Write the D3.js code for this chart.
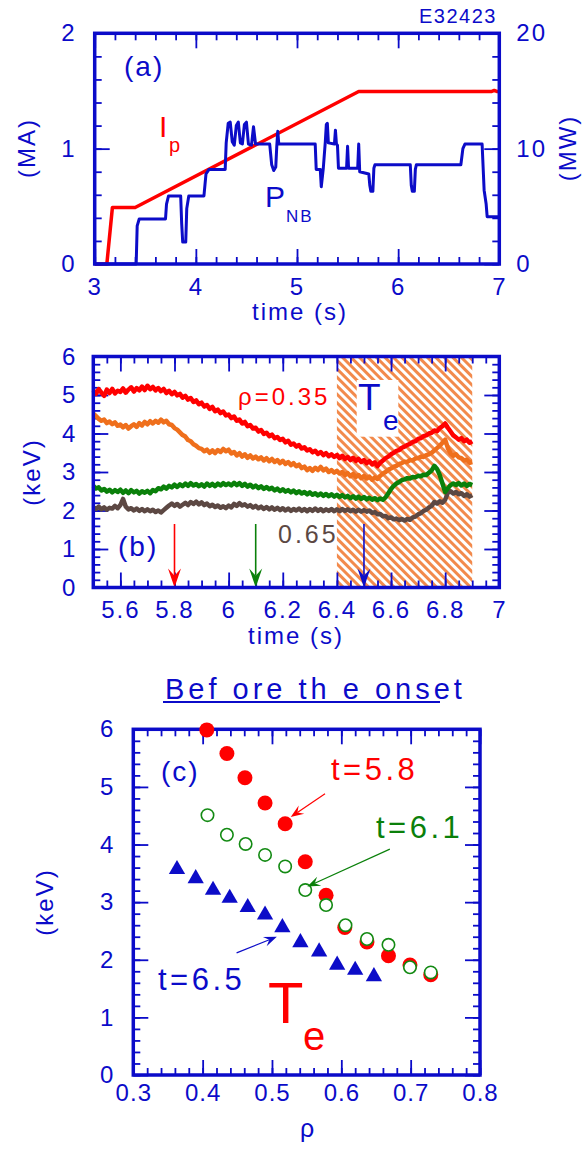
<!DOCTYPE html>
<html>
<head>
<meta charset="utf-8">
<script src="https://cdn.jsdelivr.net/npm/d3@7/dist/d3.min.js"></script>
<style>
  html, body { margin: 0; padding: 0; background: #fff; }
  svg { display: block; }
  text { font-family: "Liberation Sans", Arial, Helvetica, sans-serif; }
</style>
</head>
<body>
<svg id="fig" width="582" height="1149"></svg>
<script>
// ---------- (a) plasma current and NB power vs time ----------
const ipTime    = [3.00, 3.12, 3.175, 3.40, 5.61, 6.92, 6.95, 6.98, 7.00];
const ipCurrent = [0.00, 0.00, 0.49, 0.49, 1.495, 1.495, 1.505, 1.495, 1.495];

const nbTime = [3.00, 3.41, 3.42, 3.44, 3.70, 3.71, 3.73, 3.85, 3.86, 3.87, 3.90, 3.91, 3.93,
  4.08, 4.10, 4.13, 4.29, 4.30, 4.32, 4.34, 4.36, 4.38, 4.40, 4.42, 4.44, 4.46, 4.48, 4.50,
  4.52, 4.55, 4.57, 4.59, 4.73, 4.75, 4.77, 4.79, 4.80, 4.81, 4.82, 5.18, 5.19, 5.23, 5.24,
  5.26, 5.28, 5.29, 5.30, 5.31, 5.37, 5.38, 5.39, 5.40, 5.41, 5.49, 5.50, 5.51, 5.60, 5.61,
  5.62, 5.71, 5.72, 5.73, 5.75, 5.76, 5.77, 6.12, 6.13, 6.14, 6.16, 6.17, 6.18, 6.62, 6.64,
  6.66, 6.83, 6.85, 6.87, 6.88, 7.00];
const nbPower = [0.0, 0.0, 3.3, 3.9, 3.9, 5.2, 5.9, 5.9, 3.5, 1.9, 1.9, 4.8, 5.9,
  5.9, 7.8, 8.2, 8.2, 10.5, 12.2, 12.3, 10.6, 10.3, 12.0, 12.3, 10.5, 10.4, 12.1, 12.3,
  10.4, 10.3, 11.9, 10.4, 10.4, 8.6, 8.1, 8.4, 10.2, 11.5, 10.4, 10.4, 8.2, 8.2, 6.7,
  8.3, 10.6, 12.1, 12.2, 10.5, 10.4, 11.6, 10.4, 10.3, 8.3, 8.3, 10.2, 8.3, 8.3, 10.4,
  8.0, 7.8, 6.8, 6.3, 6.3, 8.3, 8.6, 8.6, 6.8, 6.3, 6.3, 8.2, 8.6, 8.6, 10.0,
  10.4, 10.4, 6.4, 5.2, 4.1, 4.1];

// ---------- (b) Te time traces, 10 ms sampling starting at 5.50 s ----------
const teStart = 5.5, teStep = 0.01;
const teRho035 = [
  5.12, 5.03, 5.15, 5.06, 4.98, 5.14, 5.05, 5.16, 5.04, 5.11,
  5.08, 5.17, 5.06, 5.14, 5.20, 5.09, 5.18, 5.12, 5.22, 5.13,
  5.24, 5.15, 5.21, 5.12, 5.18, 5.10, 5.16, 5.05, 5.11, 5.02,
  5.08, 4.99, 5.03, 4.93, 4.98, 4.88, 4.92, 4.82, 4.86, 4.76,
  4.80, 4.70, 4.74, 4.64, 4.69, 4.58, 4.62, 4.53, 4.57, 4.47,
  4.49, 4.40, 4.44, 4.33, 4.36, 4.26, 4.30, 4.19, 4.22, 4.13,
  4.15, 4.05, 4.09, 3.99, 4.02, 3.93, 3.97, 3.88, 3.91, 3.83,
  3.86, 3.77, 3.81, 3.71, 3.74, 3.66, 3.70, 3.61, 3.64, 3.56,
  3.59, 3.51, 3.55, 3.47, 3.52, 3.44, 3.49, 3.41, 3.46, 3.39,
  3.44, 3.36, 3.42, 3.34, 3.39, 3.31, 3.37, 3.29, 3.34, 3.26,
  3.31, 3.23, 3.28, 3.20, 3.25, 3.15, 3.24, 3.30, 3.36, 3.40,
  3.46, 3.50, 3.55, 3.57, 3.63, 3.66, 3.70, 3.73, 3.78, 3.80,
  3.86, 3.88, 3.93, 3.95, 4.00, 4.02, 4.08, 4.06, 4.14, 4.19,
  4.26, 4.15, 4.05, 3.95, 3.90, 3.84, 3.88, 3.80, 3.84, 3.76, 3.80];
const teRhoMidIn = [
  4.52, 4.45, 4.38, 4.33, 4.36, 4.27, 4.31, 4.24, 4.29, 4.20,
  4.23, 4.16, 4.22, 4.13, 4.19, 4.24, 4.17, 4.27, 4.21, 4.30,
  4.24, 4.32, 4.26, 4.33, 4.28, 4.36, 4.29, 4.33, 4.24, 4.22,
  4.14, 4.10, 4.03, 3.96, 3.92, 3.83, 3.80, 3.72, 3.68, 3.62,
  3.60, 3.54, 3.58, 3.50, 3.56, 3.49, 3.57, 3.52, 3.60, 3.54,
  3.58, 3.48, 3.52, 3.43, 3.49, 3.40, 3.46, 3.37, 3.43, 3.35,
  3.40, 3.33, 3.38, 3.30, 3.36, 3.28, 3.34, 3.26, 3.31, 3.23,
  3.29, 3.21, 3.26, 3.18, 3.23, 3.15, 3.19, 3.10, 3.14, 3.05,
  3.10, 3.03, 3.11, 3.05, 3.13, 3.04, 3.09, 3.00, 3.05, 2.98,
  3.03, 2.96, 3.00, 2.92, 2.97, 2.89, 2.95, 2.87, 2.92, 2.84,
  2.90, 2.83, 2.88, 2.80, 2.86, 2.82, 2.90, 2.96, 3.00, 3.06,
  3.09, 3.14, 3.16, 3.21, 3.23, 3.27, 3.26, 3.31, 3.30, 3.35,
  3.36, 3.40, 3.39, 3.44, 3.46, 3.50, 3.56, 3.62, 3.68, 3.76,
  3.84, 3.62, 3.48, 3.42, 3.46, 3.38, 3.36, 3.30, 3.32, 3.24, 3.26];
const teRhoMidOut = [
  2.64, 2.57, 2.60, 2.52, 2.56, 2.49, 2.54, 2.47, 2.53, 2.48,
  2.54, 2.46, 2.52, 2.45, 2.53, 2.47, 2.51, 2.44, 2.50, 2.46,
  2.51, 2.45, 2.53, 2.50, 2.58, 2.55, 2.62, 2.57, 2.64, 2.60,
  2.67, 2.61, 2.68, 2.63, 2.70, 2.64, 2.71, 2.65, 2.69, 2.63,
  2.68, 2.62, 2.70, 2.64, 2.69, 2.63, 2.70, 2.65, 2.71, 2.66,
  2.70, 2.65, 2.72, 2.66, 2.71, 2.64, 2.69, 2.62, 2.67, 2.60,
  2.65, 2.58, 2.63, 2.56, 2.61, 2.55, 2.59, 2.52, 2.57, 2.50,
  2.55, 2.49, 2.53, 2.47, 2.52, 2.45, 2.50, 2.44, 2.48, 2.42,
  2.47, 2.41, 2.45, 2.39, 2.44, 2.38, 2.43, 2.37, 2.42, 2.36,
  2.41, 2.35, 2.40, 2.34, 2.38, 2.32, 2.37, 2.31, 2.36, 2.30,
  2.35, 2.29, 2.33, 2.28, 2.32, 2.27, 2.31, 2.28, 2.34, 2.45,
  2.56, 2.64, 2.70, 2.74, 2.79, 2.81, 2.84, 2.83, 2.87, 2.86,
  2.90, 2.89, 2.93, 2.92, 2.98, 3.04, 3.16, 3.08, 2.92, 2.70,
  2.48, 2.58, 2.66, 2.70, 2.66, 2.71, 2.65, 2.70, 2.64, 2.69, 2.66];
const teRho065 = [
  2.09, 2.04, 2.10, 2.03, 2.08, 2.02, 2.07, 2.05, 2.12, 2.06,
  2.14, 2.30, 2.10, 2.03, 2.06, 2.00, 2.05, 1.99, 2.04, 1.98,
  2.03, 1.98, 2.02, 1.96, 2.00, 1.95, 2.01, 2.07, 2.13, 2.18,
  2.12, 2.17, 2.10, 2.15, 2.20, 2.14, 2.22, 2.17, 2.23, 2.16,
  2.21, 2.14, 2.18, 2.11, 2.15, 2.09, 2.13, 2.07, 2.11, 2.06,
  2.13, 2.08, 2.17, 2.12, 2.19, 2.13, 2.16, 2.10, 2.14, 2.08,
  2.12, 2.06, 2.10, 2.04, 2.09, 2.03, 2.08, 2.02, 2.07, 2.01,
  2.06, 2.00, 2.05, 1.99, 2.04, 2.00, 2.05, 1.99, 2.04, 1.98,
  2.04, 1.99, 2.05, 1.99, 2.04, 1.98, 2.03, 1.99, 2.04, 1.98,
  2.03, 1.98, 2.04, 1.99, 2.03, 1.98, 2.02, 1.97, 2.02, 1.97,
  2.01, 1.97, 2.00, 1.94, 1.96, 1.90, 1.91, 1.85, 1.86, 1.80,
  1.82, 1.77, 1.79, 1.75, 1.78, 1.74, 1.78, 1.76, 1.82, 1.84,
  1.90, 1.93, 1.99, 2.02, 2.08, 2.12, 2.22, 2.18, 2.24, 2.20,
  2.28, 2.46, 2.50, 2.44, 2.48, 2.42, 2.45, 2.38, 2.42, 2.36, 2.40];
const profileTimes = [5.8, 6.1, 6.5];
const arrowTopKeV = 1.65;
const hatchStart = 6.4, hatchEnd = 6.9;

// ---------- (c) Te profiles before the onset ----------
const rhoT58 = [0.406, 0.435, 0.461, 0.490, 0.519, 0.548, 0.578, 0.605, 0.637, 0.668, 0.699, 0.729];
const teT58  = [5.99, 5.58, 5.16, 4.72, 4.36, 3.70, 3.12, 2.56, 2.31, 2.07, 1.91, 1.74];
const rhoT61 = [0.407, 0.435, 0.462, 0.490, 0.519, 0.548, 0.578, 0.606, 0.637, 0.668, 0.699, 0.729];
const teT61  = [4.51, 4.17, 4.01, 3.82, 3.62, 3.21, 2.95, 2.60, 2.36, 2.26, 1.87, 1.78];
const rhoT65 = [0.363, 0.390, 0.415, 0.439, 0.465, 0.490, 0.515, 0.541, 0.568, 0.594, 0.620, 0.647];
const teT65  = [3.57, 3.41, 3.21, 3.07, 2.91, 2.78, 2.56, 2.30, 2.14, 1.91, 1.82, 1.71];

// ---------- tick values ----------
const aTimeTicks = [3, 4, 5, 6, 7];
const aIpTicks = [0, 1, 2];
const aPnbTicks = [0, 10, 20];
const bTimeTicks = [5.6, 5.8, 6, 6.2, 6.4, 6.6, 6.8, 7];
const bTeTicks = [0, 1, 2, 3, 4, 5, 6];
const cRhoTicks = [0.3, 0.4, 0.5, 0.6, 0.7, 0.8];
const cTeTicks = [0, 1, 2, 3, 4, 5, 6];

// ---------- drawing ----------
const BLUE = "#0b0bc9";
const RED = "#ff0000";
const ORANGE = "#ef6f1c";
const GREEN = "#0a800a";
const BROWN = "#5c4843";
const svg = d3.select("#fig");
const fmt = d3.format("~g");
const TICK_FONT = 24;

function styleAxis(sel, size, ls) {
  sel.attr("font-family", null).attr("font-size", size).attr("color", BLUE);
  sel.select(".domain").remove();
  sel.selectAll(".tick line").attr("stroke-width", 1.8);
  sel.selectAll("text").attr("letter-spacing", ls);
}
function ticks(g, axisFn, scale, values, len, transform, withLabels, pad, ls = "2px") {
  const ax = axisFn(scale).tickValues(values).tickSize(-len).tickSizeOuter(0);
  if (withLabels) ax.tickFormat(fmt).tickPadding(pad); else ax.tickFormat("");
  g.append("g").attr("transform", transform).call(ax).call(s => styleAxis(s, TICK_FONT, ls));
}
function frame(g, x, y) {
  const [x0, x1] = x.range(), [y0, y1] = y.range();
  g.append("rect").attr("x", x0).attr("y", y1).attr("width", x1 - x0).attr("height", y0 - y1)
    .attr("fill", "none").attr("stroke", BLUE).attr("stroke-width", 3.5);
}
function label(g, x, y, str, size, color, opts = {}) {
  return g.append("text").attr("x", x).attr("y", y).text(str)
    .attr("font-size", size).attr("fill", color)
    .attr("text-anchor", opts.anchor || "start")
    .attr("letter-spacing", opts.ls || "2px");
}
function vlabel(g, cx, cy, str, size) {
  g.append("text").attr("transform", `translate(${cx},${cy}) rotate(-90)`)
    .attr("text-anchor", "middle").attr("dy", "0.35em").attr("font-size", size)
    .attr("fill", BLUE).attr("letter-spacing", "2px").text(str);
}
function arrow(g, x1, y1, x2, y2, color, len, half, sw) {
  const a = Math.atan2(y2 - y1, x2 - x1);
  const ux = Math.cos(a), uy = Math.sin(a), px = -uy, py = ux;
  const bx = x2 - ux * len, by = y2 - uy * len;
  const nx = x2 - ux * len * 0.62, ny = y2 - uy * len * 0.62;
  g.append("line").attr("x1", x1).attr("y1", y1).attr("x2", nx).attr("y2", ny)
    .attr("stroke", color).attr("stroke-width", sw);
  g.append("path")
    .attr("d", `M${x2},${y2}L${bx + px * half},${by + py * half}L${nx},${ny}L${bx - px * half},${by - py * half}Z`)
    .attr("fill", color);
}

// ===== panel (a) =====
{
  const g = svg.append("g");
  const x = d3.scaleLinear([3, 7], [94.7, 499.3]);
  const y = d3.scaleLinear([0, 2], [264, 33.3]);
  const y2 = d3.scaleLinear([0, 20], [264, 33.3]);
  const [x0, x1] = x.range(), [yb, yt] = y.range();

  ticks(g, d3.axisBottom, x, d3.range(3, 7.001, 0.2), 7, `translate(0,${yb})`, false);
  ticks(g, d3.axisBottom, x, aTimeTicks, 15, `translate(0,${yb})`, true, 14);
  ticks(g, d3.axisTop, x, d3.range(3, 7.001, 0.2), 7, `translate(0,${yt})`, false);
  ticks(g, d3.axisTop, x, aTimeTicks, 15, `translate(0,${yt})`, false);
  ticks(g, d3.axisLeft, y, d3.range(0, 2.001, 0.2), 7, `translate(${x0},0)`, false);
  ticks(g, d3.axisLeft, y, aIpTicks, 15, `translate(${x0},0)`, true, 18);
  ticks(g, d3.axisRight, y2, d3.range(0, 20.01, 2), 7, `translate(${x1},0)`, false);
  ticks(g, d3.axisRight, y2, aPnbTicks, 15, `translate(${x1},0)`, true, 17);

  const ipLine = d3.line().x((d, i) => x(ipTime[i])).y(d => y(d));
  g.append("path").attr("d", ipLine(ipCurrent)).attr("fill", "none")
    .attr("stroke", RED).attr("stroke-width", 3.5).attr("stroke-linejoin", "round");
  const nbLine = d3.line().x((d, i) => x(nbTime[i])).y(d => y2(d));
  g.append("path").attr("d", nbLine(nbPower)).attr("fill", "none")
    .attr("stroke", "#0c0cc8").attr("stroke-width", 3).attr("stroke-linejoin", "round");

  frame(g, x, y);

  label(g, 497, 23, "E32423", 20, BLUE, { anchor: "end", ls: "1.5px" });
  label(g, 124, 76, "(a)", 28, BLUE);
  label(g, 159, 137, "I", 30, RED);
  label(g, 169, 152, "p", 20, RED);
  label(g, 265, 207, "P", 30, BLUE);
  label(g, 286, 222, "NB", 17, BLUE);
  label(g, 300, 320, "time (s)", 24, BLUE, { anchor: "middle" });
  vlabel(g, 27, 148, "(MA)", 24);
  vlabel(g, 568, 148, "(MW)", 24);
}

// ===== panel (b) =====
{
  const g = svg.append("g");
  const x = d3.scaleLinear([5.5, 7], [93.3, 499.3]);
  const y = d3.scaleLinear([0, 6], [587.5, 356.5]);
  const [x0, x1] = x.range(), [yb, yt] = y.range();

  const defs = svg.append("defs");
  const pat = defs.append("pattern").attr("id", "hatch").attr("patternUnits", "userSpaceOnUse")
    .attr("width", 6).attr("height", 6).attr("patternTransform", "rotate(-45)");
  pat.append("rect").attr("width", 6).attr("height", 6).attr("fill", "#fff");
  pat.append("rect").attr("width", 3).attr("height", 6).attr("fill", "#f28a4c");
  g.append("rect").attr("x", x(hatchStart)).attr("y", yt)
    .attr("width", x(hatchEnd) - x(hatchStart)).attr("height", yb - yt).attr("fill", "url(#hatch)");
  g.append("rect").attr("x", 356.7).attr("y", 380).attr("width", 41.6).attr("height", 56.7).attr("fill", "#fff");

  ticks(g, d3.axisBottom, x, d3.range(5.5, 7.001, 0.05), 7, `translate(0,${yb})`, false);
  ticks(g, d3.axisBottom, x, bTimeTicks, 15, `translate(0,${yb})`, true, 13.5);
  ticks(g, d3.axisTop, x, d3.range(5.5, 7.001, 0.05), 7, `translate(0,${yt})`, false);
  ticks(g, d3.axisTop, x, bTimeTicks, 15, `translate(0,${yt})`, false);
  ticks(g, d3.axisLeft, y, d3.range(0, 6.001, 0.2), 7, `translate(${x0},0)`, false);
  ticks(g, d3.axisLeft, y, bTeTicks, 15, `translate(${x0},0)`, true, 16);
  ticks(g, d3.axisRight, y, d3.range(0, 6.001, 0.2), 7, `translate(${x1},0)`, false);
  ticks(g, d3.axisRight, y, bTeTicks, 15, `translate(${x1},0)`, false);

  const line = d3.line().x((d, i) => x(teStart + i * teStep)).y(d => y(d));
  [[teRho065, BROWN], [teRhoMidOut, GREEN], [teRhoMidIn, ORANGE], [teRho035, RED]].forEach(([s, c]) => {
    g.append("path").attr("d", line(s)).attr("fill", "none").attr("stroke", c)
      .attr("stroke-width", 4.5).attr("stroke-linejoin", "round");
  });

  const arrowCols = [RED, GREEN, "#0c0cc8"];
  profileTimes.forEach((t, i) => {
    arrow(g, x(t), y(arrowTopKeV), x(t), y(0), arrowCols[i], 19, 6.5, 1.6);
  });

  frame(g, x, y);

  label(g, 238, 405, "\u03C1=0.35", 24, RED, { ls: "3px" });
  label(g, 358, 410, "T", 37, BLUE);
  label(g, 383, 430, "e", 28, BLUE);
  label(g, 278, 543, "0.65", 25, BROWN, { ls: "3px" });
  label(g, 118, 556, "(b)", 28, BLUE);
  label(g, 296, 644, "time (s)", 24, BLUE, { anchor: "middle" });
  vlabel(g, 32, 472, "(keV)", 24);
}

// ===== panel (c) =====
{
  const g = svg.append("g");
  const x = d3.scaleLinear([0.3, 0.8], [133.3, 480]);
  const y = d3.scaleLinear([0, 6], [1075, 729.3]);
  const [x0, x1] = x.range(), [yb, yt] = y.range();

  ticks(g, d3.axisBottom, x, d3.range(0.3, 0.8001, 0.02), 7, `translate(0,${yb})`, false);
  ticks(g, d3.axisBottom, x, cRhoTicks, 15, `translate(0,${yb})`, true, 9, "1px");
  ticks(g, d3.axisTop, x, d3.range(0.3, 0.8001, 0.02), 7, `translate(0,${yt})`, false);
  ticks(g, d3.axisTop, x, cRhoTicks, 15, `translate(0,${yt})`, false);
  ticks(g, d3.axisLeft, y, d3.range(0, 6.001, 0.2), 7, `translate(${x0},0)`, false);
  ticks(g, d3.axisLeft, y, cTeTicks, 15, `translate(${x0},0)`, true, 18);
  ticks(g, d3.axisRight, y, d3.range(0, 6.001, 0.2), 7, `translate(${x1},0)`, false);
  ticks(g, d3.axisRight, y, cTeTicks, 15, `translate(${x1},0)`, false);

  frame(g, x, y);

  g.append("g").selectAll("circle").data(teT58).join("circle")
    .attr("cx", (d, i) => x(rhoT58[i])).attr("cy", d => y(d)).attr("r", 7.5).attr("fill", RED);
  g.append("g").selectAll("circle").data(teT61).join("circle")
    .attr("cx", (d, i) => x(rhoT61[i])).attr("cy", d => y(d)).attr("r", 6.2)
    .attr("fill", "#fff").attr("stroke", "#138a13").attr("stroke-width", 1.6);
  const tri = d3.symbol(d3.symbolTriangle, 115);
  g.append("g").selectAll("path").data(teT65).join("path")
    .attr("transform", (d, i) => `translate(${x(rhoT65[i])},${y(d)})`)
    .attr("d", tri).attr("fill", "#0c0cc8");

  arrow(g, x(0.5765), y(4.88), x(0.527), y(4.48), RED, 13, 5, 1.2);
  arrow(g, x(0.670), y(3.92), x(0.551), y(3.27), GREEN, 13, 5, 1.2);
  arrow(g, x(0.449), y(2.12), x(0.507), y(2.40), "#0c0cc8", 13, 5, 1.2);

  label(g, 331, 780, "t=5.8", 31, RED, { ls: "3.5px" });
  label(g, 376, 838, "t=6.1", 31, GREEN, { ls: "3.5px" });
  label(g, 158, 990, "t=6.5", 31, BLUE, { ls: "3.5px" });
  label(g, 268, 1023, "T", 58, RED, { ls: "0px" });
  label(g, 303, 1050, "e", 40, RED, { ls: "0px" });
  label(g, 161, 781, "(c)", 28, BLUE);
  label(g, 165, 699, "Bef ore th e onset", 29, BLUE, { ls: "4px" });
  g.append("line").attr("x1", 163).attr("x2", 440).attr("y1", 702).attr("y2", 702)
    .attr("stroke", BLUE).attr("stroke-width", 2);
  label(g, 307, 1137, "\u03C1", 25, BLUE, { anchor: "middle", ls: "0px" });
  vlabel(g, 45, 902, "(keV)", 24);
}
</script>
</body>
</html>
